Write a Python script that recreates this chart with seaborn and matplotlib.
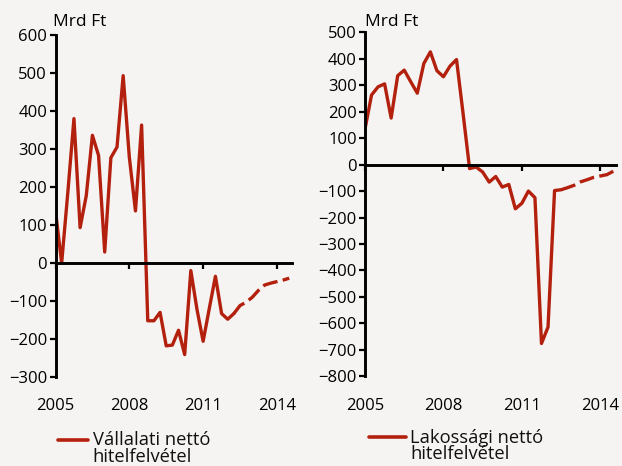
import matplotlib
matplotlib.use("Agg")
import matplotlib.pyplot as plt
import matplotlib.transforms as mtransforms
from matplotlib.lines import Line2D
import pandas as pd
import seaborn as sns

# quarterly net borrowing, 2005Q1 - 2014Q3, billion HUF (tail = forecast, dashed)
quarters = [2005 + 0.25 * i for i in range(39)]
corporate = [137, 0, 185, 380, 93, 177, 336, 283, 29, 277, 305, 493, 279, 137, 363,
             -152, -152, -130, -218, -216, -177, -241, -20, -122, -206, -120, -35, -133, -148,
             -133, -112, -103, -90, -72, -58, -53, -49, -45, -40]
household = [134, 263, 294, 305, 176, 336, 357, 313, 270, 382, 426, 355, 332, 372, 397, 194,
             -15, -9, -28, -66, -45, -85, -75, -167, -146, -100, -125, -676, -614, -98, -95,
             -87, -78, -65, -57, -48, -43, -38, -25]
corporate_fc_start = 29
household_fc_start = 30

year_ticks = [2005, 2008, 2011, 2014]
corporate_yticks = list(range(-300, 601, 100))
household_yticks = list(range(-800, 501, 100))
corporate_label = "Vállalati nettó\nhitelfelvétel"
household_label = "Lakossági nettó\nhitelfelvétel"
unit = "Mrd Ft"

bg = "#f5f4f2"
red = "#b3200e"
W, H = 622, 466

sns.set_theme(style="white")
plt.rcParams["font.family"] = ["Open Sans", "DejaVu Sans"]
plt.rcParams["axes.unicode_minus"] = True

fig = plt.figure(figsize=(W / 100, H / 100), dpi=100, facecolor=bg)
ax1 = fig.add_axes([55.5 / W, 1 - 377 / H, (291.7 - 55.5) / W, (377 - 35) / H])
ax2 = fig.add_axes([365 / W, 1 - 376.3 / H, (616 - 365) / W, (376.3 - 32.3) / H])


def draw_panel(ax, values, fc_start, yticks, label, unit_xy, leg_x, leg_y, text_x, base_y):
    df = pd.DataFrame({"year": quarters, "value": values})
    sns.lineplot(data=df.iloc[:fc_start + 1], x="year", y="value", ax=ax,
                 color=red, lw=2.4, solid_joinstyle="round", solid_capstyle="round")
    sns.lineplot(data=df.iloc[fc_start:], x="year", y="value", ax=ax,
                 color=red, lw=2.4, linestyle=(0, (4.5, 1.6)))

    ax.set_facecolor(bg)
    ax.set_xlim(2005, 2014.6)
    ax.set_ylim(yticks[0], yticks[-1])
    ax.set_xticks(year_ticks)
    ax.set_yticks(yticks)
    ax.set_xlabel("")
    ax.set_ylabel("")
    for s in ["top", "right"]:
        ax.spines[s].set_visible(False)
    ax.spines["bottom"].set_position(("data", 0))
    for s in ["left", "bottom"]:
        ax.spines[s].set_color("black")
        ax.spines[s].set_linewidth(2.1)
    ax.tick_params(axis="x", bottom=True, direction="out", length=4.5, width=1.6,
                   color="black", labelbottom=False)
    ax.tick_params(axis="y", left=True, direction="out", length=4.5, width=1.6,
                   color="black", labelsize=12, labelcolor="black", pad=1.5)

    # year labels sit under the plot, not at the zero line
    trans = mtransforms.blended_transform_factory(ax.transData, fig.transFigure)
    for yr in year_ticks:
        ax.text(yr, 1 - 406 / H, str(yr), transform=trans, ha="center", va="center",
                fontsize=12, color="black")

    fig.text(unit_xy[0] / W, 1 - unit_xy[1] / H, unit, ha="left", va="center",
             fontsize=12.5, color="black")

    # legend: handle aligned with first text line
    fig.add_artist(Line2D([leg_x[0] / W, leg_x[1] / W], [1 - leg_y / H] * 2,
                          color=red, lw=2.6, transform=fig.transFigure))
    fig.text(text_x / W, 1 - base_y / H, label, ha="left", va="baseline",
             fontsize=13.2, color="#111111", linespacing=0.88)


draw_panel(ax1, corporate, corporate_fc_start, corporate_yticks, corporate_label,
           (53.3, 21.5), (58, 88), 440.3, 92.7, 461.5)
draw_panel(ax2, household, household_fc_start, household_yticks, household_label,
           (365.3, 22.5), (369, 406), 437, 410.3, 459.0)

fig.savefig("out.png", dpi=100, facecolor=bg)
